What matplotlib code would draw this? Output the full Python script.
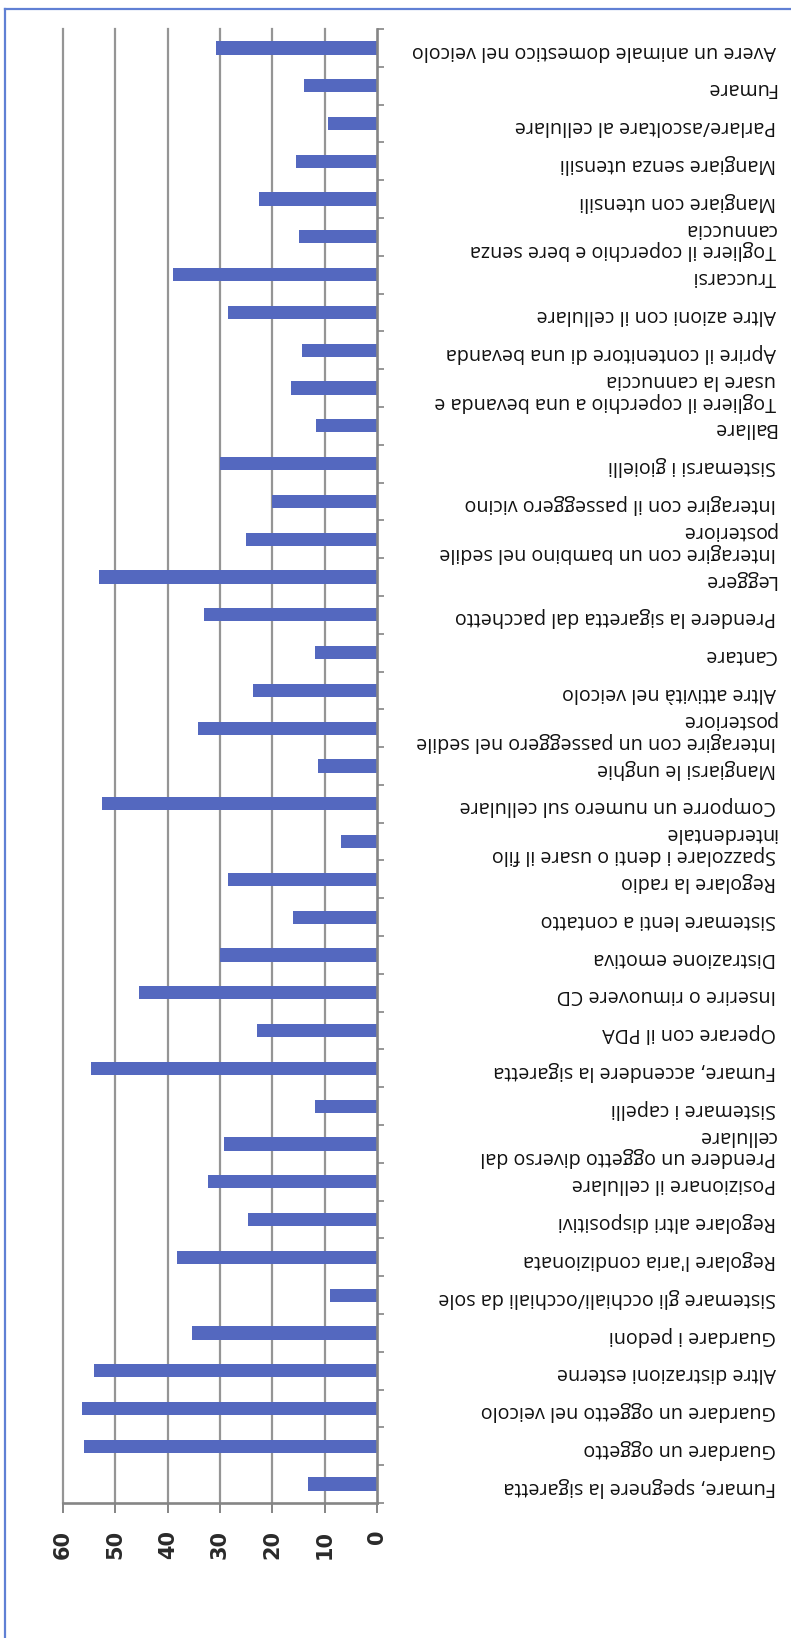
import matplotlib
matplotlib.use("Agg")
import matplotlib.pyplot as plt
from matplotlib.lines import Line2D

# ---- data (listed top to bottom as shown) ----
categories = [
    "Avere un animale domestico nel veicolo",
    "Fumare",
    "Parlare/ascoltare al cellulare",
    "Mangiare senza utensili",
    "Mangiare con utensili",
    "Togliere il coperchio e bere senza\ncannuccia",
    "Truccarsi",
    "Altre azioni con il cellulare",
    "Aprire il contenitore di una bevanda",
    "Togliere il coperchio a una bevanda e\nusare la cannuccia",
    "Ballare",
    "Sistemarsi i gioielli",
    "Interagire con il passeggero vicino",
    "Interagire con un bambino nel sedile\nposteriore",
    "Leggere",
    "Prendere la sigaretta dal pacchetto",
    "Cantare",
    "Altre attività nel veicolo",
    "Interagire con un passeggero nel sedile\nposteriore",
    "Mangiarsi le unghie",
    "Comporre un numero sul cellulare",
    "Spazzolare i denti o usare il filo\ninterdentale",
    "Regolare la radio",
    "Sistemare lenti a contatto",
    "Distrazione emotiva",
    "Inserire o rimuovere CD",
    "Operare con il PDA",
    "Fumare, accendere la sigaretta",
    "Sistemare i capelli",
    "Prendere un oggetto diverso dal\ncellulare",
    "Posizionare il cellulare",
    "Regolare altri dispositivi",
    "Regolare l'aria condizionata",
    "Sistemare gli occhiali/occhiali da sole",
    "Guardare i pedoni",
    "Altre distrazioni esterne",
    "Guardare un oggetto nel veicolo",
    "Guardare un oggetto",
    "Fumare, spegnere la sigaretta",
]
values = [
    30.8, 14.0, 9.4, 15.4, 22.6, 14.9, 39.0, 28.4, 14.3, 16.5,
    11.6, 30.0, 20.0, 25.0, 53.1, 33.0, 11.8, 23.6, 34.2, 11.2,
    52.5, 6.9, 28.4, 16.0, 30.0, 45.5, 22.9, 54.6, 11.8, 29.2,
    32.3, 24.6, 38.2, 9.0, 35.4, 54.0, 56.4, 56.0, 13.1,
]
value_ticks = [0, 10, 20, 30, 40, 50, 60]
value_tick_labels = ["0", "10", "20", "30", "40", "50", "60"]

# ---- figure ----
W, H, DPI = 791, 1638, 100
fig = plt.figure(figsize=(W / DPI, H / DPI), dpi=DPI)
fig.patch.set_facecolor("white")

left_px, right_px, top_px, bottom_px = 63, 377, 29, 1503
ax = fig.add_axes([left_px / W, (H - bottom_px) / H,
                   (right_px - left_px) / W, (bottom_px - top_px) / H])

n = len(categories)
ypos = list(range(n))
bar_color = "#5468BF"
grid_color = "#959595"
axis_color = "#858585"

ax.barh(ypos, values, height=0.35, color=bar_color, zorder=3)
ax.set_xlim(60, 0)
ax.set_ylim(n - 0.5, -0.5)

for v in value_ticks[1:]:
    ax.axvline(v, color=grid_color, lw=1.6, zorder=1, clip_on=False)

for s in ["top", "left"]:
    ax.spines[s].set_visible(False)
for s in ["right", "bottom"]:
    ax.spines[s].set_color(axis_color)
    ax.spines[s].set_linewidth(1.9)
    ax.spines[s].set_zorder(4)

# category axis ticks at boundaries (right side)
ax.yaxis.tick_right()
ax.set_yticks([i - 0.5 for i in range(n + 1)])
ax.set_yticklabels([])
ax.tick_params(axis="y", direction="out", length=5, width=1.2, color=axis_color)

# value axis ticks
ax.set_xticks(value_ticks)
ax.set_xticklabels([])
ax.tick_params(axis="x", direction="out", length=7, width=1.4, color=axis_color)

# value tick labels (rotated)
for v, lab in zip(value_ticks, value_tick_labels):
    ax.text(v, -27 / (bottom_px - top_px), lab, transform=ax.get_xaxis_transform(),
            rotation=90, ha="center", va="top", fontsize=15,
            family=["DejaVu Sans"], fontweight="bold", color="#2a2a2a")

# category labels (upside down)
xlab = (776 - left_px) / (right_px - left_px)
for i, lab in enumerate(categories):
    ax.text(xlab, i + 0.07, lab, transform=ax.get_yaxis_transform(),
            rotation=180, ha="right", va="center", fontsize=14.2,
            family=["Open Sans", "DejaVu Sans"], color="#111111",
            linespacing=1.12, multialignment="left")

# blue outer frame (top and left edges visible)
fig.add_artist(Line2D([5 / W, 1.0], [(H - 9) / H, (H - 9) / H],
                      transform=fig.transFigure, color="#6080D4", lw=1.6))
fig.add_artist(Line2D([5 / W, 5 / W], [0.0, (H - 9) / H],
                      transform=fig.transFigure, color="#6080D4", lw=1.6))

fig.savefig("out.png", dpi=DPI, facecolor="white")
